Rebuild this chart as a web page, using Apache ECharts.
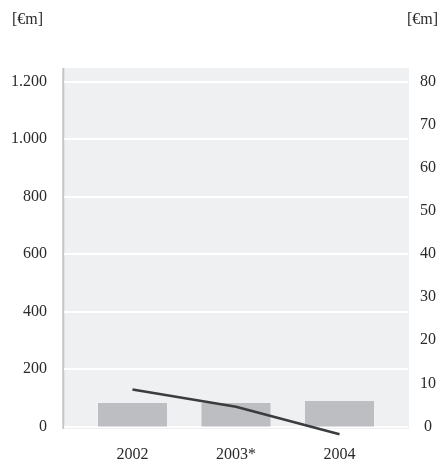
<!DOCTYPE html>
<html>
<head>
<meta charset="utf-8">
<script src="https://cdn.jsdelivr.net/npm/echarts@6/dist/echarts.min.js"></script>
<style>
  html, body { margin: 0; padding: 0; background: #ffffff; }
  #chart { width: 442px; height: 468px; }
</style>
</head>
<body>
<div id="chart"></div>
<script>
// Years shown on the category axis
const categories = ['2002', '2003*', '2004'];
// Bars, left axis [€m]
const barValues = [82, 82, 89];
// Line, right axis [€m]
const lineValues = [8.6, 4.6, -1.8];
// Axis ranges
const leftAxis = { min: 0, max: 1200, interval: 200 };
const rightAxis = { min: 0, max: 80, interval: 10 };
const unitLabel = '[€m]';

const FONT = '"Liberation Serif", "DejaVu Serif", serif';
const TEXT = '#2a2a2a';

// Thousands separator with a dot: 1200 -> "1.200"
function dotThousands(v) {
  return String(v).replace(/\B(?=(\d{3})+(?!\d))/g, '.');
}

const chart = echarts.init(document.getElementById('chart'), null, { renderer: 'canvas' });

const gridTop = 81.5, gridBottom = 41.5;

chart.setOption({
  animation: false,
  backgroundColor: '#ffffff',
  textStyle: { fontFamily: FONT },
  graphic: [
    // plot panel
    { type: 'rect', z: -10, silent: true,
      shape: { x: 62.5, y: 68, width: 346.5, height: 361 },
      style: { fill: '#eff0f2' } },
    // left border of the panel
    { type: 'rect', z: -9, silent: true,
      shape: { x: 62.3, y: 68, width: 2, height: 361 },
      style: { fill: '#c4c5c7' } },
    { type: 'text', left: 12, top: 12, silent: true,
      style: { text: unitLabel, font: '16px ' + FONT, fill: TEXT } },
    { type: 'text', right: 4, top: 12, silent: true,
      style: { text: unitLabel, font: '16px ' + FONT, fill: TEXT } }
  ],
  grid: [
    // full-width grid carrying the value axes and gridlines
    { left: 64, right: 34, top: gridTop, bottom: gridBottom },
    // narrower grid carrying the categories, bars and line
    { left: 80.75, right: 50.75, top: gridTop, bottom: gridBottom }
  ],
  xAxis: [
    { gridIndex: 0, type: 'value', min: 0, max: 1, show: false },
    { gridIndex: 1, type: 'category', data: categories,
      axisLine: { show: false }, axisTick: { show: false },
      splitLine: { show: false },
      axisLabel: { margin: 20, fontSize: 16, color: TEXT, fontFamily: FONT } }
  ],
  yAxis: [
    { gridIndex: 0, type: 'value', position: 'left',
      min: leftAxis.min, max: leftAxis.max, interval: leftAxis.interval,
      axisLine: { show: false }, axisTick: { show: false },
      splitLine: { show: true, lineStyle: { color: '#ffffff', width: 2 } },
      axisLabel: { margin: 17, fontSize: 16, color: TEXT, fontFamily: FONT,
                   formatter: dotThousands } },
    { gridIndex: 0, type: 'value', position: 'right',
      min: rightAxis.min, max: rightAxis.max, interval: rightAxis.interval,
      axisLine: { show: false }, axisTick: { show: false },
      splitLine: { show: false },
      axisLabel: { margin: 20, align: 'center', fontSize: 16, color: TEXT, fontFamily: FONT } },
    { gridIndex: 1, type: 'value', position: 'left',
      min: leftAxis.min, max: leftAxis.max, interval: leftAxis.interval, show: false,
      splitLine: { show: false } },
    { gridIndex: 1, type: 'value', position: 'right',
      min: rightAxis.min, max: rightAxis.max, interval: rightAxis.interval, show: false,
      splitLine: { show: false } }
  ],
  series: [
    { type: 'bar', xAxisIndex: 1, yAxisIndex: 2, data: barValues,
      barWidth: 69, itemStyle: { color: '#bdbec1' }, silent: true },
    { type: 'line', xAxisIndex: 1, yAxisIndex: 3, data: lineValues,
      clip: false, symbol: 'none', silent: true,
      lineStyle: { color: '#3b3c3e', width: 2.6 } }
  ]
});
</script>
</body>
</html>
